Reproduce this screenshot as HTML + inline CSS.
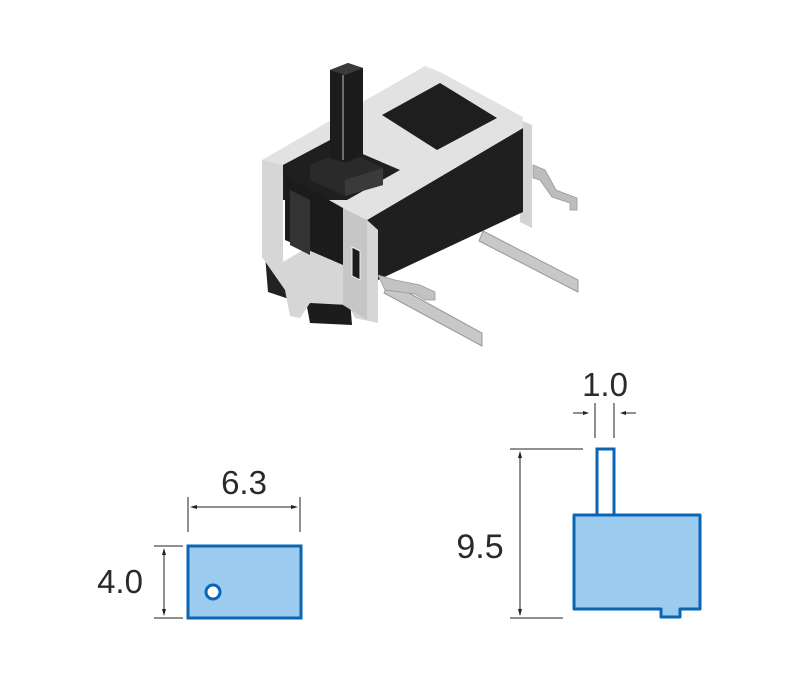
<!DOCTYPE html>
<html><head><meta charset="utf-8"><style>
html,body{margin:0;padding:0;background:#fff;}
svg{display:block;}
text{font-family:"Liberation Sans",sans-serif;fill:#2a2a2a;}
</style></head><body>
<svg width="800" height="680" viewBox="0 0 800 680" xmlns="http://www.w3.org/2000/svg">
<!-- leads -->
<polygon points="483,231 578,280 578,292 479,241" fill="#c8c8c8" stroke="#999" stroke-width="1"/>
<polygon points="389,282 482,333 482,346 384,293" fill="#c8c8c8" stroke="#999" stroke-width="1"/>
<!-- right tab -->
<polygon points="520,120 532,125 532,228 520,222" fill="#d4d4d4"/>
<polygon points="533,165 545,170 556,190 577,198 577,210 570,210 570,203 552,197 540,180 533,178" fill="#bdbdbd" stroke="#999" stroke-width="0.8"/>
<!-- bottom black pieces -->
<polygon points="265,255 292,270 292,300 268,292" fill="#222"/>
<polygon points="305,296 350,300 352,325 310,323" fill="#1c1c1c"/>
<!-- black long side face -->
<polygon points="367,220 523,128 523,212 378,280" fill="#1f1f1f"/>
<!-- top face -->
<polygon points="262,160 425,66 440,72 523,117 523,128 367,220 343,208" fill="#e2e2e2"/>
<!-- rear hole -->
<polygon points="382,115 440,83 497,118 437,150" fill="#1e1e1e"/>
<!-- front opening around actuator -->
<polygon points="283,165 330,140 400,170 347,200 283,200" fill="#1f1f1f"/>
<!-- front-left face (frame) -->
<polygon points="262,160 283,165 283,262 345,225 345,210 367,220 378,230 378,323 355,318 348,305 310,303 300,318 290,316 285,290 262,257" fill="#d6d6d6"/>
<!-- interior black of left face -->
<polygon points="285,175 343,208 343,265 285,240" fill="#1b1b1b"/>
<polygon points="290,190 310,200 310,255 290,245" fill="#333"/>
<!-- side bracket front edge -->
<polygon points="343,208 367,220 367,320 343,305" fill="#c6c6c6"/>
<polygon points="352,247 360,251 360,280 352,276" fill="#1b1b1b" stroke="#eee" stroke-width="1"/>
<!-- left small tab -->
<polygon points="378,275 395,280 420,285 435,292 435,300 425,300 415,294 385,290" fill="#c2c2c2" stroke="#999" stroke-width="0.8"/>
<!-- actuator -->
<polygon points="310,165 345,150 383,168 383,185 345,196 310,180" fill="#2a2a2a"/>
<polygon points="345,180 383,168 383,185 345,196" fill="#3a3a3a"/>
<polygon points="330,70 348,63 363,68 363,155 345,163 330,158" fill="#1c1c1c"/>
<line x1="343" y1="75" x2="343" y2="160" stroke="#888" stroke-width="1.5"/>
<polygon points="330,70 348,63 363,68 345,75" fill="#3a3a3a"/>

<!-- left drawing -->
<g stroke="#222" stroke-width="1" fill="none">
<line x1="188" y1="497" x2="188" y2="532"/>
<line x1="300" y1="497" x2="300" y2="532"/>
<line x1="192" y1="507" x2="296" y2="507"/>
<line x1="154" y1="546" x2="183" y2="546"/>
<line x1="154" y1="618" x2="183" y2="618"/>
<line x1="164" y1="550" x2="164" y2="614"/>
</g>
<g fill="#222">
<polygon points="190,507 197,505 197,509"/>
<polygon points="298,507 291,505 291,509"/>
<polygon points="164,548 162,555 166,555"/>
<polygon points="164,616 162,609 166,609"/>
</g>
<rect x="188" y="546" width="113" height="72" fill="#9ccbf0" stroke="#0a66b5" stroke-width="3"/>
<circle cx="213" cy="592" r="7" fill="#fff" stroke="#0a66b5" stroke-width="3"/>
<text x="244" y="494" font-size="33" text-anchor="middle">6.3</text>
<text x="120" y="593" font-size="33" text-anchor="middle">4.0</text>

<!-- right drawing -->
<g stroke="#222" stroke-width="1" fill="none">
<line x1="595" y1="403" x2="595" y2="438"/>
<line x1="614" y1="403" x2="614" y2="438"/>
<line x1="573" y1="413" x2="587" y2="413"/>
<line x1="622" y1="413" x2="636" y2="413"/>
<line x1="510" y1="449" x2="583" y2="449"/>
<line x1="510" y1="618" x2="563" y2="618"/>
<line x1="520" y1="452" x2="520" y2="615"/>
</g>
<g fill="#222">
<polygon points="589,413 583,411 583,415"/>
<polygon points="620,413 626,411 626,415"/>
<polygon points="520,451 518,458 522,458"/>
<polygon points="520,616 518,609 522,609"/>
</g>
<rect x="597" y="449" width="17" height="66" fill="#fff" stroke="#0a66b5" stroke-width="3"/>
<polygon points="574,515 700,515 700,609 680,609 680,617 661,617 661,609 574,609" fill="#9ccbf0" stroke="#0a66b5" stroke-width="3" stroke-linejoin="round"/>
<text x="605" y="396" font-size="33" text-anchor="middle">1.0</text>
<text x="480" y="558" font-size="34" text-anchor="middle">9.5</text>
</svg>
</body></html>
